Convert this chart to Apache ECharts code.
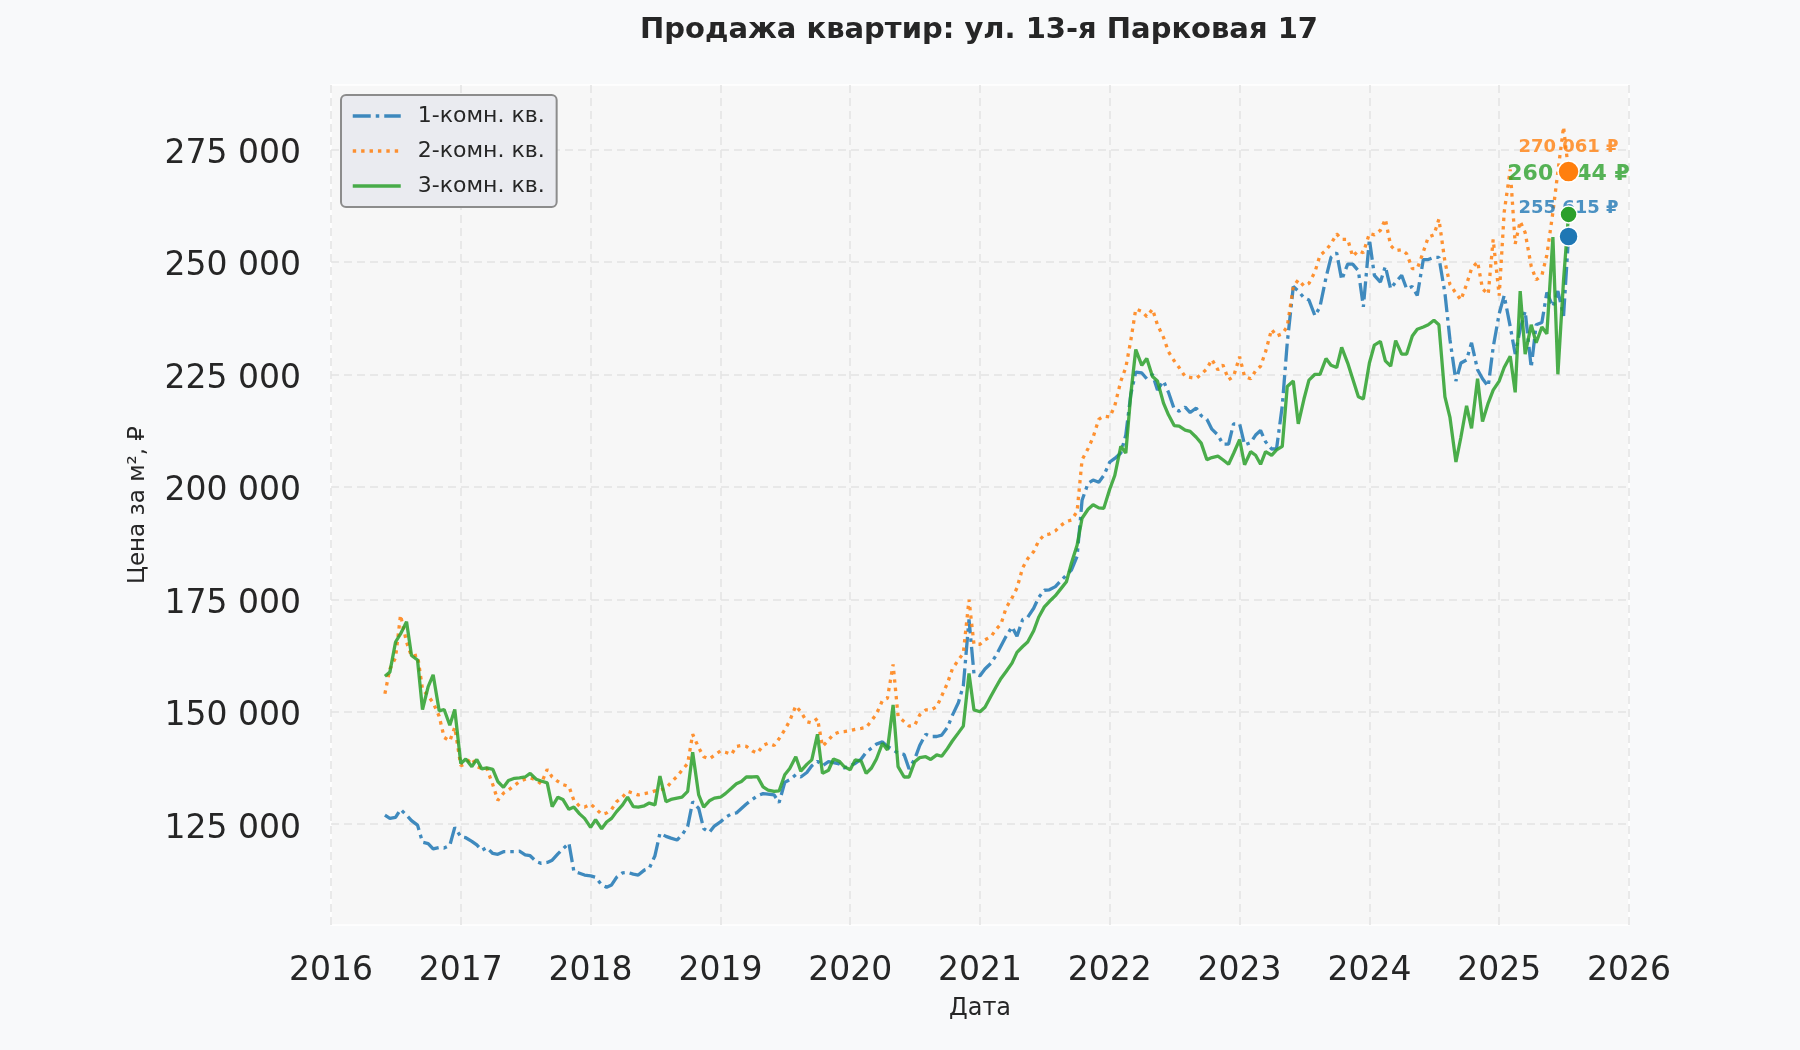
<!DOCTYPE html>
<html>
<head>
<meta charset="utf-8">
<title>Продажа квартир: ул. 13-я Парковая 17</title>
<script src="https://cdn.jsdelivr.net/npm/echarts@6/dist/echarts.min.js"></script>
<style>
html, body { margin: 0; padding: 0; background: #f8f9fa; }
#chart { width: 1800px; height: 1050px; }
</style>
</head>
<body>
<div id="chart"></div>
<script>
// даты наблюдений (два раза в месяц)
var dates = [
  '2016-06-01','2016-06-15','2016-07-01','2016-07-15','2016-08-01','2016-08-15','2016-09-01','2016-09-15','2016-10-01','2016-10-15','2016-11-01','2016-11-15','2016-12-01','2016-12-15',
  '2017-01-01','2017-01-15','2017-02-01','2017-02-15','2017-03-01','2017-03-15','2017-04-01','2017-04-15','2017-05-01','2017-05-15','2017-06-01','2017-06-15','2017-07-01','2017-07-15','2017-08-01','2017-08-15','2017-09-01','2017-09-15','2017-10-01','2017-10-15','2017-11-01','2017-11-15','2017-12-01','2017-12-15',
  '2018-01-01','2018-01-15','2018-02-01','2018-02-15','2018-03-01','2018-03-15','2018-04-01','2018-04-15','2018-05-01','2018-05-15','2018-06-01','2018-06-15','2018-07-01','2018-07-15','2018-08-01','2018-08-15','2018-09-01','2018-09-15','2018-10-01','2018-10-15','2018-11-01','2018-11-15','2018-12-01','2018-12-15',
  '2019-01-01','2019-01-15','2019-02-01','2019-02-15','2019-03-01','2019-03-15','2019-04-01','2019-04-15','2019-05-01','2019-05-15','2019-06-01','2019-06-15','2019-07-01','2019-07-15','2019-08-01','2019-08-15','2019-09-01','2019-09-15','2019-10-01','2019-10-15','2019-11-01','2019-11-15','2019-12-01','2019-12-15',
  '2020-01-01','2020-01-15','2020-02-01','2020-02-15','2020-03-01','2020-03-15','2020-04-01','2020-04-15','2020-05-01','2020-05-15','2020-06-01','2020-06-15','2020-07-01','2020-07-15','2020-08-01','2020-08-15','2020-09-01','2020-09-15','2020-10-01','2020-10-15','2020-11-01','2020-11-15','2020-12-01','2020-12-15',
  '2021-01-01','2021-01-15','2021-02-01','2021-02-15','2021-03-01','2021-03-15','2021-04-01','2021-04-15','2021-05-01','2021-05-15','2021-06-01','2021-06-15','2021-07-01','2021-07-15','2021-08-01','2021-08-15','2021-09-01','2021-09-15','2021-10-01','2021-10-15','2021-11-01','2021-11-15','2021-12-01','2021-12-15',
  '2022-01-01','2022-01-15','2022-02-01','2022-02-15','2022-03-01','2022-03-15','2022-04-01','2022-04-15','2022-05-01','2022-05-15','2022-06-01','2022-06-15','2022-07-01','2022-07-15','2022-08-01','2022-08-15','2022-09-01','2022-09-15','2022-10-01','2022-10-15','2022-11-01','2022-11-15','2022-12-01','2022-12-15',
  '2023-01-01','2023-01-15','2023-02-01','2023-02-15','2023-03-01','2023-03-15','2023-04-01','2023-04-15','2023-05-01','2023-05-15','2023-06-01','2023-06-15','2023-07-01','2023-07-15','2023-08-01','2023-08-15','2023-09-01','2023-09-15','2023-10-01','2023-10-15','2023-11-01','2023-11-15','2023-12-01','2023-12-15',
  '2024-01-01','2024-01-15','2024-02-01','2024-02-15','2024-03-01','2024-03-15','2024-04-01','2024-04-15','2024-05-01','2024-05-15','2024-06-01','2024-06-15','2024-07-01','2024-07-15','2024-08-01','2024-08-15','2024-09-01','2024-09-15','2024-10-01','2024-10-15','2024-11-01','2024-11-15','2024-12-01','2024-12-15',
  '2025-01-01','2025-01-15','2025-02-01','2025-02-15','2025-03-01','2025-03-15','2025-04-01','2025-04-15','2025-05-01','2025-05-15','2025-06-01','2025-06-15','2025-07-01','2025-07-15'
];

// 1-комн. кв., руб/м2
var price1 = [
  127000,126300,126500,128300,127000,125800,124800,121000,120700,119500,119800,119700,120300,124300,
  122200,122000,121200,120400,119200,119800,118500,118300,118900,118900,118900,119000,118200,118000,116700,116300,116500,117000,118400,119500,120800,114500,114100,113700,
  113500,113200,111500,111000,111500,113200,114200,114300,113900,113700,114800,115200,118000,123000,122300,121900,121500,122600,124500,130000,128500,124000,123200,124600,
  125500,126500,127300,127500,128500,129500,130500,131300,131800,131700,131500,129800,134300,134900,136000,135500,136500,138000,139000,138000,138900,138700,138400,137500,
  138000,138500,139500,141000,141900,142800,143300,142300,141500,140800,140500,137300,139500,142500,145000,144500,144500,144800,146500,149200,152000,155800,170500,158500,
  158000,159500,160800,162500,164600,166700,168900,166800,170500,171000,173000,175400,177000,177100,177800,179000,180400,181500,184500,197000,200800,201500,201000,202500,
  205500,206300,207500,211500,220500,225500,225300,224000,225000,221500,223500,221000,217300,216800,217700,216500,217500,215800,215000,212800,211500,209500,209500,214000,
  214000,209300,209800,211500,212500,210000,208400,208500,218000,232000,244500,243500,242000,241500,238000,240000,246500,251000,252000,246000,249500,249500,248000,240000,
  255000,247000,245500,249000,244000,245500,247000,244000,244500,242500,250500,250500,251000,251000,243000,232800,223500,227500,228200,232000,226000,224000,222300,231000,
  238500,242500,235600,229500,235000,239000,226500,236000,236500,243200,240000,243500,238000,255615
];

// 2-комн. кв., руб/м2
var price2 = [
  154000,159500,162000,171500,165500,162300,162600,155000,153500,152000,149000,144300,143500,146500,
  138000,138500,139700,137800,137400,137400,133800,130300,131900,132600,133600,134500,135000,135300,134800,134000,137200,135500,134500,133800,133400,130300,129000,128800,
  129500,128500,127200,127500,128300,130000,131100,132300,131900,131500,131800,132000,132400,132600,133000,134300,135600,137000,138500,145000,142000,140000,139500,140300,
  141300,141000,140500,142300,142500,142300,141300,140800,142500,143000,142500,144000,146000,148000,151300,150000,147800,147500,148500,142300,143700,145000,145500,145600,
  145800,146100,146300,146500,148000,149500,152500,153000,160500,149000,147800,146800,147000,149300,150400,150400,151100,153500,156300,159500,161500,163000,174900,165000,
  165000,166000,166700,168300,169500,173000,175300,177500,182000,184000,185600,188000,189300,189500,190200,191300,192300,192600,194500,206000,208500,211000,215000,215700,
  215500,218000,223500,226500,232500,239500,239000,237800,239500,236000,233200,230000,228000,226500,224500,224300,224100,225000,226200,228300,226000,227100,223800,224500,
  228900,224500,224000,225800,226800,230000,235000,233500,234000,235600,244500,246000,244600,245200,247800,251400,252600,254000,256200,255000,255000,251200,252500,252000,
  256300,256000,257000,259500,253600,252500,252700,251800,248500,248500,252200,255500,256000,259500,250000,245000,243000,241500,245000,248500,250000,244000,242800,255000,
  242500,261000,270500,254000,259000,256500,249000,246000,247000,251500,261000,270000,280000,270061
];

// 3-комн. кв., руб/м2
var price3 = [
  157900,158800,165500,167300,170000,162500,161500,150500,155600,158200,150200,150500,147000,150500,
  138500,139500,137800,139400,137300,137500,137200,134500,133200,134700,135200,135300,135500,136300,135000,134600,134200,128900,131000,130500,128300,128800,127300,126300,
  124300,126000,124000,125500,126300,127800,129300,131000,128900,128800,129100,129700,129300,135700,130000,130500,130800,131000,132300,141000,131500,128800,130200,130800,
  131000,131800,133000,134000,134500,135500,135500,135600,133300,132600,132300,132400,136000,137400,140000,136800,138300,139300,145000,136300,137000,139500,139000,137800,
  137100,139300,139000,136300,137500,139500,143000,141500,151500,137800,135500,135500,138900,139800,140000,139400,140400,140100,141800,143500,145300,146800,158500,150400,
  150000,151000,153500,155500,157400,158900,160800,163200,164500,165500,168000,171000,173300,174500,175800,177200,178900,183000,187000,193000,195000,196000,195300,195200,
  199500,202500,209000,207500,220500,230500,227000,228500,224500,223500,218600,216000,213600,213500,212600,212300,211000,209700,206000,206500,206800,206000,205000,207400,
  210500,204900,207800,207000,205000,207800,207000,208200,209000,222300,223500,214000,219500,223700,225000,225000,228500,227000,226500,231000,227500,224000,220000,219500,
  227500,231500,232300,228000,226800,232500,229500,229500,233500,235000,235500,236000,237000,236000,220000,215500,205500,211000,218000,213000,224000,214500,218600,221500,
  223500,226500,229000,221000,243500,229500,236000,232000,235500,234000,255500,225000,246000,260544
];

var seriesNames = ['1-комн. кв.', '2-комн. кв.', '3-комн. кв.'];
var seriesColors = ['#1f77b4', '#ff7f0e', '#2ca02c'];
var yTicks = [125000, 150000, 175000, 200000, 225000, 250000, 275000];

function toYear(s) {
  var p = s.split('-');
  var y = +p[0];
  var t0 = Date.UTC(y, 0, 1), t1 = Date.UTC(y + 1, 0, 1);
  return y + (Date.UTC(y, +p[1] - 1, +p[2]) - t0) / (t1 - t0);
}

function fmt(v) {
  return String(Math.round(v)).replace(/\B(?=(\d{3})+(?!\d))/g, ' ');
}

var xs = dates.map(toYear);
function pairs(arr) {
  return arr.map(function (v, i) { return [xs[i], v]; });
}

var allPrices = [price1, price2, price3];
var dashes = [[18, 5, 3.5, 5], [3.4, 5], 'solid'];
var labelSize = [18, 18, 22];
var labelDist = [19, 15, 29];
var dotSize = [19, 21, 17];

var series = [];
allPrices.forEach(function (arr, k) {
  series.push({
    name: seriesNames[k],
    type: 'line',
    data: pairs(arr),
    showSymbol: false,
    symbol: 'none',
    z: 2,
    itemStyle: { color: seriesColors[k] },
    lineStyle: { color: seriesColors[k], width: 3.3, type: dashes[k], cap: 'butt', opacity: 0.85 },
    emphasis: { disabled: true },
    animation: false
  });
});
// подписи последних значений
allPrices.forEach(function (arr, k) {
  var last = arr.length - 1;
  series.push({
    type: 'scatter',
    data: [[xs[last], arr[last]]],
    symbolSize: 1,
    z: 3,
    silent: true,
    itemStyle: { color: 'rgba(0,0,0,0)' },
    label: {
      show: true,
      position: 'top',
      distance: labelDist[k],
      formatter: function () { return fmt(arr[last]) + ' ₽'; },
      color: seriesColors[k],
      fontSize: labelSize[k],
      fontWeight: 'bold',
      fontFamily: 'DejaVu Sans'
    },
    animation: false
  });
});
// точки последних значений
allPrices.forEach(function (arr, k) {
  var last = arr.length - 1;
  series.push({
    type: 'scatter',
    data: [[xs[last], arr[last]]],
    symbolSize: dotSize[k],
    z: 4,
    silent: true,
    itemStyle: { color: seriesColors[k], borderColor: '#ffffff', borderWidth: 1.5, opacity: 1 },
    animation: false
  });
});

var chart = echarts.init(document.getElementById('chart'));
chart.setOption({
  backgroundColor: '#f8f9fa',
  animation: false,
  textStyle: { fontFamily: 'DejaVu Sans' },
  title: {
    text: 'Продажа квартир: ул. 13-я Парковая 17',
    left: 974,
    top: 11,
    textAlign: 'center',
    textStyle: { fontSize: 29, fontWeight: 'bold', color: '#262626', fontFamily: 'DejaVu Sans' }
  },
  legend: {
    data: seriesNames,
    orient: 'vertical',
    left: 341,
    top: 95,
    itemWidth: 48,
    itemHeight: 14,
    itemGap: 13,
    padding: [10, 12, 10, 10],
    backgroundColor: '#eaebf0',
    borderColor: '#8c8c8c',
    borderWidth: 2,
    borderRadius: 5,
    itemStyle: { opacity: 0 },
    lineStyle: { width: 3.5 },
    textStyle: { fontSize: 22, color: '#262626', padding: [0, 0, 0, 12] }
  },
  grid: {
    left: 331, right: 171, top: 85, bottom: 125,
    show: true,
    backgroundColor: '#f7f7f7',
    borderColor: '#ffffff',
    borderWidth: 1.5
  },
  xAxis: {
    type: 'value',
    min: 2016,
    max: 2026,
    interval: 1,
    name: 'Дата',
    nameLocation: 'middle',
    nameGap: 72,
    nameTextStyle: { fontSize: 24, color: '#262626' },
    axisLine: { show: false },
    axisTick: { show: false },
    axisLabel: { fontSize: 33, color: '#262626', margin: 30, formatter: function (v) { return String(v); } },
    splitLine: { show: true, lineStyle: { color: '#e4e4e4', width: 1.6, type: [8, 5] } }
  },
  yAxis: {
    type: 'value',
    min: 102600,
    max: 289300,
    name: 'Цена за м², ₽',
    nameLocation: 'middle',
    nameGap: 181,
    nameTextStyle: { fontSize: 23, color: '#262626' },
    axisLine: { show: false },
    axisTick: { show: false, customValues: yTicks },
    axisLabel: {
      customValues: yTicks,
      margin: 30,
      formatter: function (v) { return '{t|' + fmt(v) + '}'; },
      rich: { t: { fontSize: 33, color: '#262626', padding: [10, 0, 0, 0] } }
    },
    splitLine: { show: true, lineStyle: { color: '#e4e4e4', width: 1.6, type: [8, 5] } }
  },
  series: series
});
</script>
</body>
</html>
